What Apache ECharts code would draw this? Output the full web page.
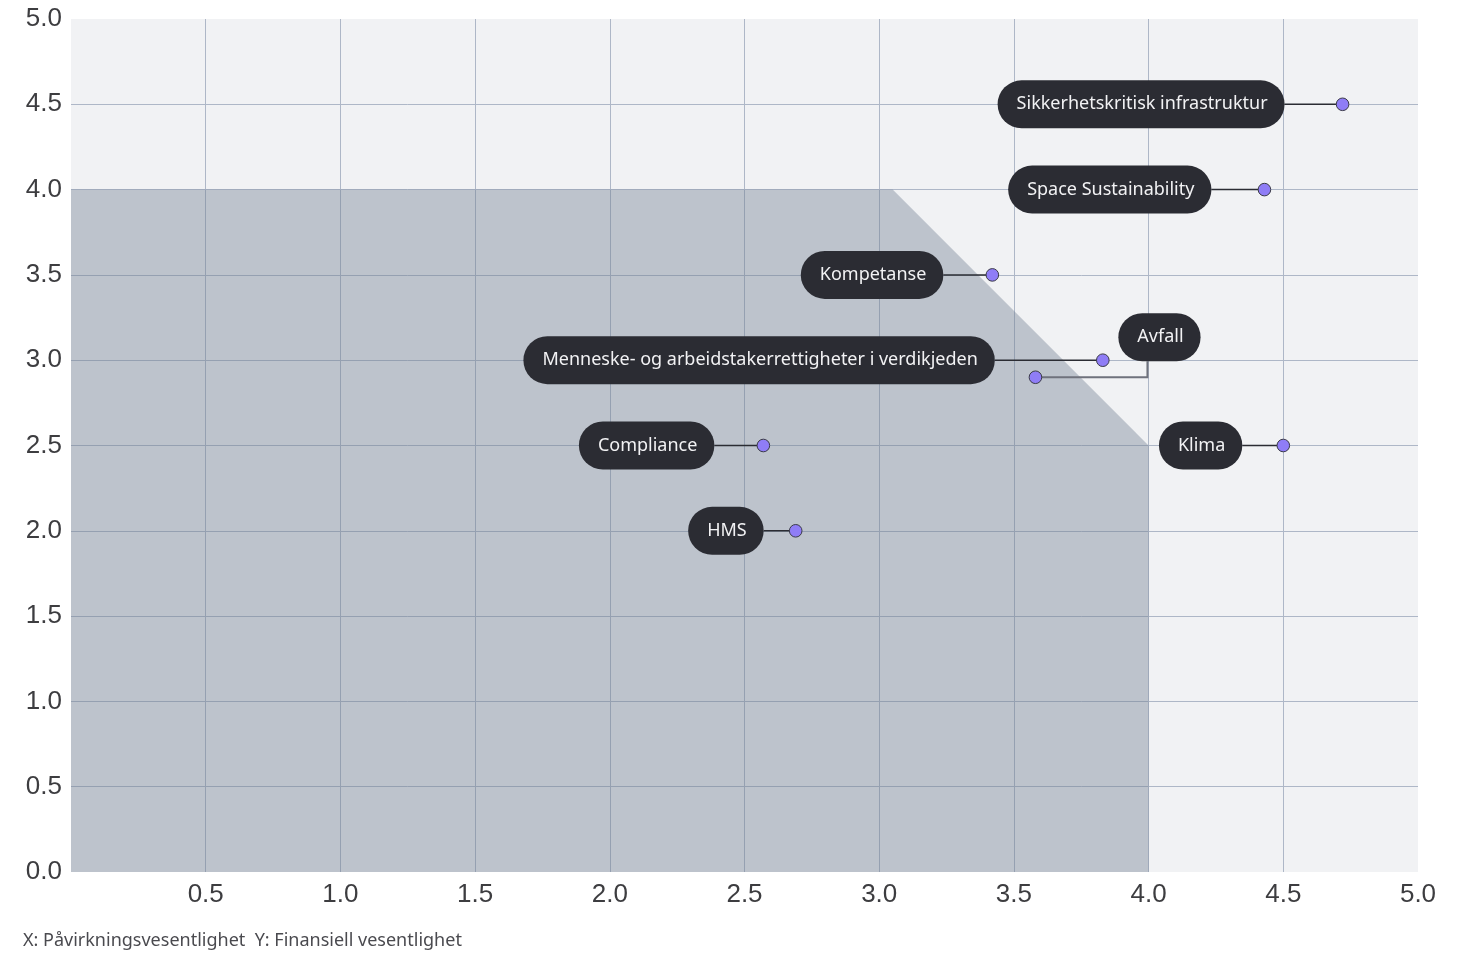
<!DOCTYPE html>
<html>
<head>
<meta charset="utf-8">
<script src="https://cdn.jsdelivr.net/npm/echarts@6/dist/echarts.min.js"></script>
<style>
html,body{margin:0;padding:0;background:#ffffff;}
#chart{width:1458px;height:953px;}
</style>
</head>
<body>
<div id="chart"></div>
<script>
// ---- data ----
const categories = ['Sikkerhetskritisk infrastruktur', 'Space Sustainability', 'Kompetanse',
  'Menneske- og arbeidstakerrettigheter i verdikjeden', 'Avfall', 'Compliance', 'HMS', 'Klima'];
const xValues = [4.72, 4.43, 3.42, 3.83, 3.58, 2.57, 2.69, 4.50];
const yValues = [4.5, 4.0, 3.5, 3.0, 2.9, 2.5, 2.0, 2.5];
const regionX = [0, 3.05, 4.0];
const regionY = [4.0, 4.0, 2.5];
const tickValues = [0, 0.5, 1.0, 1.5, 2.0, 2.5, 3.0, 3.5, 4.0, 4.5, 5.0];
const footerText = 'X: Påvirkningsvesentlighet  Y: Finansiell vesentlighet';

// ---- label layout (pixel styling, not data) ----
const labelLayout = [
  { type: 'left', gap: 58 },
  { type: 'left', gap: 53 },
  { type: 'left', gap: 49 },
  { type: 'left', gap: 108 },
  { type: 'elbow', elbow: 112, rise: 16, dx: 124 },
  { type: 'left', gap: 49 },
  { type: 'left', gap: 32 },
  { type: 'left', gap: 41 }
];

const PILL = '#2b2c33';
const POINT = '#8f7df6';
const FONT_PILL = '18px "Noto Sans", Lato, sans-serif';

const pointData = categories.map((c, i) => [xValues[i], yValues[i], c]);
const regionData = regionX.map((x, i) => [x, regionY[i]]);

const chart = echarts.init(document.getElementById('chart'), null, { renderer: 'canvas' });

function pillText(text, x, y, align, vAlign) {
  return {
    type: 'text',
    z2: 10,
    style: {
      text: text,
      x: x, y: y,
      align: align,
      verticalAlign: vAlign,
      fill: '#f2f2f4',
      font: FONT_PILL,
      lineHeight: 20,
      backgroundColor: PILL,
      padding: [15, 17, 13, 19],
      borderRadius: 24
    }
  };
}

const option = {
  animation: false,
  title: {
    text: footerText,
    left: 18,
    top: 927,
    textStyle: { fontFamily: '"Noto Sans", Lato, sans-serif', fontSize: 18, fontWeight: 'normal', color: '#4a4a4f' }
  },
  grid: {
    left: 71, right: 40, top: 19, bottom: 81,
    show: true, backgroundColor: '#f1f2f4', borderWidth: 0
  },
  xAxis: {
    type: 'value', min: 0, max: 5, interval: 0.5,
    axisLine: { show: false }, axisTick: { show: false },
    axisLabel: {
      margin: 10, fontSize: 26, color: '#3d3d40', fontFamily: '"Liberation Sans", Arial, sans-serif',
      formatter: v => (v === 0 ? '' : tickValues.find(t => Math.abs(t - v) < 1e-9).toFixed(1))
    },
    splitLine: { show: true, showMinLine: false, showMaxLine: false, lineStyle: { color: '#aeb7c7', width: 1 } }
  },
  yAxis: {
    type: 'value', min: 0, max: 5, interval: 0.5,
    axisLine: { show: false }, axisTick: { show: false },
    axisLabel: {
      margin: 9, fontSize: 26, color: '#3d3d40', fontFamily: '"Liberation Sans", Arial, sans-serif',
      padding: [3, 0, 0, 0],
      formatter: v => tickValues.find(t => Math.abs(t - v) < 1e-9).toFixed(1)
    },
    splitLine: { show: true, showMinLine: false, showMaxLine: false, lineStyle: { color: '#aeb7c7', width: 1 } }
  },
  series: [
    {
      type: 'line',
      data: regionData,
      symbol: 'none',
      silent: true,
      lineStyle: { width: 0 },
      areaStyle: { color: 'rgba(112,124,146,0.40)', opacity: 1, origin: 'start' },
      z: 1
    },
    {
      type: 'custom',
      data: pointData,
      z: 5,
      renderItem: function (params, api) {
        const i = params.dataIndex;
        const p = api.coord([api.value(0), api.value(1)]);
        const lay = labelLayout[i];
        const name = categories[i];
        const children = [];
        if (lay.type === 'left') {
          children.push({
            type: 'line',
            shape: { x1: p[0], y1: p[1], x2: p[0] - lay.gap, y2: p[1] },
            style: { stroke: PILL, lineWidth: 1.5 }
          });
          children.push(pillText(name, p[0] - lay.gap, p[1], 'right', 'middle'));
        } else {
          children.push({
            type: 'polyline',
            shape: { points: [[p[0], p[1]], [p[0] + lay.elbow, p[1]], [p[0] + lay.elbow, p[1] - lay.rise]] },
            style: { stroke: '#6f727c', lineWidth: 2, fill: null }
          });
          children.push(pillText(name, p[0] + lay.dx, p[1] - lay.rise - 24, 'center', 'middle'));
        }
        children.push({
          type: 'circle',
          z2: 20,
          shape: { cx: p[0], cy: p[1], r: 6.3 },
          style: { fill: POINT, stroke: '#3b3b48', lineWidth: 1 }
        });
        return { type: 'group', children: children };
      }
    }
  ]
};
chart.setOption(option);
</script>
</body>
</html>
